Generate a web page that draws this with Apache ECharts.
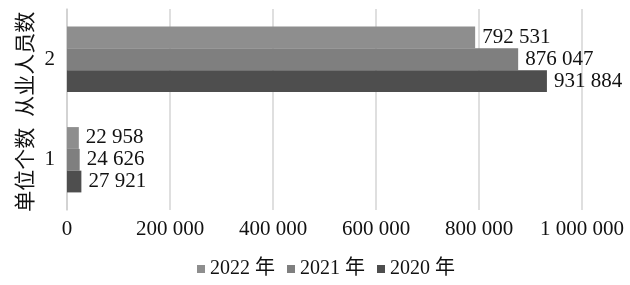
<!DOCTYPE html>
<html><head><meta charset="utf-8">
<script src="https://cdn.jsdelivr.net/npm/echarts@6/dist/echarts.min.js"></script>
<style>html,body{margin:0;padding:0;background:#fff}#c{width:630px;height:285px}</style>
</head><body><div id="c"></div>
<script>
const categories = ['1', '2'];
const categoryNames = ['单位个数', '从业人员数'];
const seriesNames = ['2022 年', '2021 年', '2020 年'];
const v2022 = [22958, 792531];
const v2021 = [24626, 876047];
const v2020 = [27921, 931884];
const xTicks = [0, 200000, 400000, 600000, 800000, 1000000];

function fmt(n){ return String(n).replace(/\B(?=(\d{3})+(?!\d))/g, ' '); }
const serif = '"Liberation Serif","Noto Sans CJK SC",serif';
const colors = {'2022 年':'#8e8e8e','2021 年':'#7f7f7f','2020 年':'#4e4e4e'};
const valuesByName = {'2022 年':v2022,'2021 年':v2021,'2020 年':v2020};

const chart = echarts.init(document.getElementById('c'));
chart.setOption({
  animation:false,
  textStyle:{fontFamily:serif},
  legend:{
    data:seriesNames, bottom:1, left:192, itemWidth:8, itemHeight:8, itemGap:12,
    icon:'rect', textStyle:{fontSize:20,color:'#111',fontFamily:serif}
  },
  grid:{left:67,right:48,top:9,bottom:75,containLabel:false},
  xAxis:{
    type:'value', min:xTicks[0], max:xTicks[xTicks.length-1], interval:xTicks[1]-xTicks[0],
    axisLine:{show:false}, axisTick:{show:false},
    splitLine:{lineStyle:{color:'#d4d4d4',width:1.5}},
    axisLabel:{formatter:v=>fmt(v), fontSize:21, color:'#111', margin:9, fontFamily:serif}
  },
  yAxis:[{
    type:'category', data:categories,
    axisLine:{lineStyle:{color:'#cfcfcf',width:1.5}}, axisTick:{show:false},
    axisLabel:{fontSize:21,color:'#111',margin:12,fontFamily:serif}
  },{
    type:'category', data:categoryNames, position:'left', offset:24,
    axisLine:{show:false}, axisTick:{show:false},
    axisLabel:{interval:0,color:'#111',rotate:90,margin:8,align:'center',verticalAlign:'bottom',
      formatter:(v,i)=> i===0 ? '{a|'+v+'}' : '{b|'+v+'}',
      rich:{
        a:{fontSize:21,fontFamily:'"Noto Sans CJK SC",serif',color:'#111',padding:[0,20,0,0]},
        b:{fontSize:21,fontFamily:'"Noto Sans CJK SC",serif',color:'#111',padding:[0,10,0,0]}
      }}
  }],
  series:seriesNames.map(name=>({
    name, type:'bar', yAxisIndex:0, data:valuesByName[name],
    barGap:'0%', barCategoryGap:'35%',
    itemStyle:{color:colors[name]},
    label:{show:true,position:'right',distance:7,formatter:p=>fmt(p.value),fontSize:21,color:'#111',fontFamily:serif}
  }))
});
</script></body></html>
